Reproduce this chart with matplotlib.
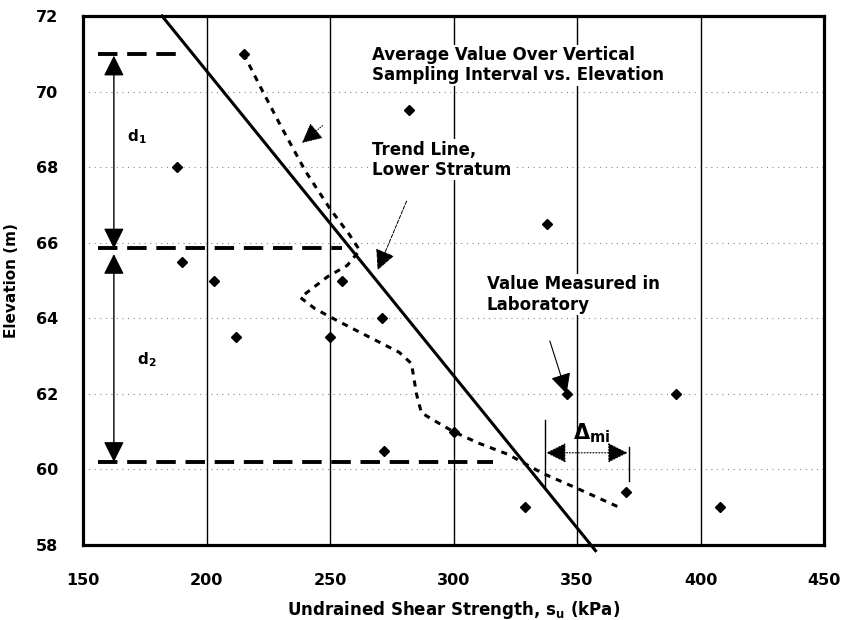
import matplotlib
matplotlib.use('Agg')
import matplotlib.pyplot as plt

plt.rcParams['font.family'] = ['DejaVu Sans']
plt.rcParams['font.weight'] = 'bold'
plt.rcParams['mathtext.fontset'] = 'custom'
plt.rcParams['mathtext.rm'] = 'DejaVu Sans:bold'
plt.rcParams['mathtext.it'] = 'DejaVu Sans:bold'
plt.rcParams['mathtext.bf'] = 'DejaVu Sans:bold'

# laboratory measurements
lab_su = [215, 188, 282, 338, 190, 203, 255, 271, 212, 250, 346, 390, 300, 272, 370, 329, 408]
lab_elev = [71.0, 68.0, 69.5, 66.5, 65.5, 65.0, 65.0, 64.0, 63.5, 63.5, 62.0, 62.0, 61.0, 60.5, 59.4, 59.0, 59.0]

# average over vertical sampling interval (dotted curve)
avg_su = [215, 222, 230, 240, 250, 258, 262, 257, 249, 238, 244, 254, 266, 278, 283, 285, 287, 292,
          300, 310, 322, 336, 350, 367]
avg_elev = [71.0, 70.1, 69.1, 67.9, 66.9, 66.2, 65.8, 65.4, 65.1, 64.55, 64.25, 63.9, 63.5, 63.1, 62.8,
            62.0, 61.5, 61.3, 61.0, 60.7, 60.4, 59.9, 59.5, 59.0]

# trend line, lower stratum
trend_su = [182, 357.5]
trend_elev = [72.0, 57.85]

# sampling interval boundaries
interval_elev = [71.0, 65.85, 60.2]
interval_xmax = [190, 255, 316]

xticks = [150, 200, 250, 300, 350, 400, 450]
yticks = [58, 60, 62, 64, 66, 68, 70, 72]

fig = plt.figure(figsize=(8.43, 6.2), dpi=100)
ax = fig.add_axes([83/843, 75/620, 741/843, 529/620])
ax.set_xlim(150, 450)
ax.set_ylim(58, 72)
ax.set_xticks(xticks)
ax.set_yticks(yticks)
ax.tick_params(length=0, labelsize=11.5)
ax.tick_params(axis='x', pad=20)
ax.tick_params(axis='y', pad=18)
for lab in ax.get_xticklabels() + ax.get_yticklabels():
    lab.set_fontweight('bold')
for s in ax.spines.values():
    s.set_linewidth(2.3)

for x in xticks[1:-1]:
    ax.axvline(x, color='k', lw=1.0, zorder=0.5)
for y in yticks[1:-1]:
    ax.axhline(y, color='0.55', lw=0.8, ls=(0, (1, 4)), zorder=0.5)

ax.plot(trend_su, trend_elev, color='k', lw=2.2, clip_on=False, zorder=2)
ax.plot(avg_su, avg_elev, color='k', lw=2.2, ls=(0, (2, 2)), zorder=2)
ax.plot(lab_su, lab_elev, 'D', color='k', ms=5, zorder=4)

for y, xm in zip(interval_elev, interval_xmax):
    ax.plot([156, xm], [y, y], color='k', lw=2.8, ls=(0, (5, 2.5)), zorder=2)

head = '<|-|>,head_length=0.9,head_width=0.45'
ax.annotate('', xy=(162.5, 70.95), xytext=(162.5, 65.85),
            arrowprops=dict(arrowstyle=head, color='k', lw=1, shrinkA=0, shrinkB=0, mutation_scale=14))
ax.annotate('', xy=(162.5, 65.7), xytext=(162.5, 60.2),
            arrowprops=dict(arrowstyle=head, color='k', lw=1, shrinkA=0, shrinkB=0, mutation_scale=14))
ax.text(172, 68.8, 'd$_1$', fontsize=11, fontweight='bold', ha='center', va='center')
ax.text(176, 62.9, 'd$_2$', fontsize=11, fontweight='bold', ha='center', va='center')

# delta_mi
ax.plot([337, 337], [59.5, 61.3], color='k', lw=1)
ax.plot([371, 371], [59.7, 60.6], color='k', lw=1)
ax.annotate('', xy=(337.5, 60.44), xytext=(370.5, 60.44),
            arrowprops=dict(arrowstyle=head, color='k', lw=0.8, ls=':', shrinkA=0, shrinkB=0, mutation_scale=14))
ax.text(356, 60.95, r'$\Delta_{mi}$', fontsize=15, ha='center', va='center')

box = dict(facecolor='white', edgecolor='none', pad=1)
ptr = '-|>,head_length=0.9,head_width=0.45'
ax.text(267, 70.7, 'Average Value Over Vertical\nSampling Interval vs. Elevation', fontsize=12,
        fontweight='bold', ha='left', va='center', linespacing=1.15, bbox=box, zorder=3)
ax.annotate('', xy=(238.6, 68.64), xytext=(247, 69.1),
            arrowprops=dict(arrowstyle=ptr, color='k', lw=0.7, ls=':', shrinkA=0, shrinkB=0, mutation_scale=14))
ax.text(267, 68.2, 'Trend Line,\nLower Stratum', fontsize=12, fontweight='bold',
        ha='left', va='center', linespacing=1.15, bbox=box, zorder=3)
ax.annotate('', xy=(269.3, 65.28), xytext=(281, 67.1),
            arrowprops=dict(arrowstyle=ptr, color='k', lw=0.7, ls='--', shrinkA=0, shrinkB=0, mutation_scale=14))
ax.text(313.4, 64.63, 'Value Measured in\nLaboratory', fontsize=12, fontweight='bold',
        ha='left', va='center', linespacing=1.15, bbox=box, zorder=3)
ax.annotate('', xy=(345.8, 62.0), xytext=(339, 63.4),
            arrowprops=dict(arrowstyle=ptr, color='k', lw=0.8, shrinkA=0, shrinkB=0, mutation_scale=14))

ax.set_xlabel('Undrained Shear Strength, s$_u$ (kPa)', fontsize=12, fontweight='bold', labelpad=8)
ax.set_ylabel('Elevation (m)', fontsize=11, fontweight='bold', labelpad=12)

fig.savefig('out.png', dpi=100)
